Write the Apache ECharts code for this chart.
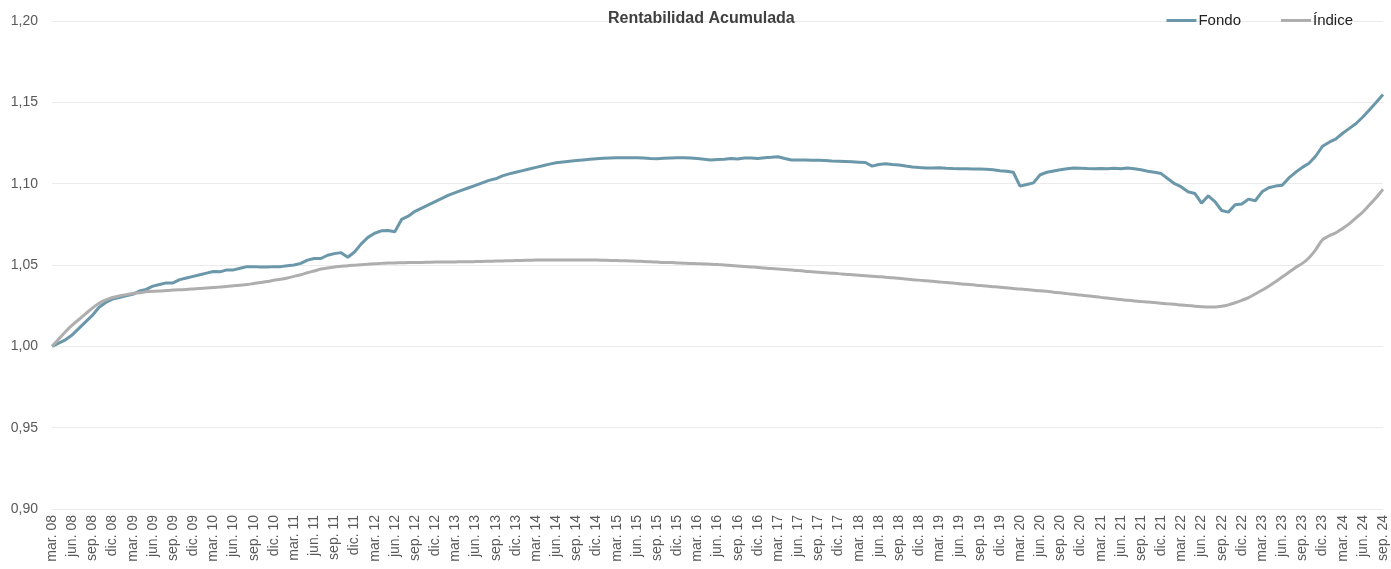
<!DOCTYPE html>
<html>
<head>
<meta charset="utf-8">
<script src="https://cdn.jsdelivr.net/npm/echarts@6/dist/echarts.min.js"></script>
<style>
html,body{margin:0;padding:0;background:#fff;}
#chart{width:1391px;height:569px;}
</style>
</head>
<body>
<div id="chart"></div>
<script>
// Month names (Spanish abbreviations) and the year span of the series (monthly, mar. 08 .. sep. 24)
const monthNames = ['ene.','feb.','mar.','abr.','may.','jun.','jul.','ago.','sep.','oct.','nov.','dic.'];
const startYear = 2008, startMonth = 2;   // March 2008
const endYear = 2024, endMonth = 8;       // September 2024

// Fondo: monthly cumulative return index
const fondo = [
1.000,1.002,1.004,1.007,1.011,1.015,1.019,1.024,1.027,1.029,
1.030,1.031,1.032,1.034,1.035,1.037,1.038,1.039,1.039,1.041,
1.042,1.043,1.044,1.045,1.046,1.0458,1.047,1.047,1.048,1.049,
1.049,1.0488,1.0488,1.049,1.049,1.0495,1.050,1.051,1.053,1.054,
1.054,1.056,1.057,1.0576,1.0548,1.058,1.063,1.067,1.0695,1.071,
1.0712,1.0705,1.078,1.080,1.083,1.085,1.087,1.089,1.091,1.093,
1.0945,1.096,1.0975,1.099,1.1005,1.102,1.103,1.1048,1.106,1.107,
1.108,1.109,1.110,1.111,1.112,1.1128,1.1133,1.1138,1.1142,1.1146,
1.115,1.1153,1.1156,1.1158,1.116,1.116,1.116,1.116,1.1158,1.1155,
1.1153,1.1156,1.1158,1.116,1.116,1.1158,1.1155,1.115,1.1145,1.1148,
1.115,1.1155,1.1152,1.1158,1.1158,1.1155,1.116,1.1162,1.1165,1.1155,
1.1146,1.1145,1.1145,1.1144,1.1144,1.1143,1.114,1.1138,1.1136,1.1134,
1.1132,1.113,1.1108,1.1118,1.1122,1.1118,1.1115,1.1108,1.1102,1.1099,
1.1097,1.1096,1.1098,1.1095,1.1093,1.1092,1.1092,1.109,1.109,1.1088,
1.1085,1.108,1.1076,1.107,1.0985,1.0995,1.1005,1.1055,1.107,1.1078,
1.1085,1.1092,1.1097,1.1095,1.1093,1.1092,1.1093,1.1092,1.1095,1.1092,
1.1097,1.1092,1.1085,1.1076,1.107,1.1062,1.103,1.100,1.098,1.095,
1.094,1.088,1.0925,1.089,1.0835,1.0825,1.087,1.0875,1.0905,1.0895,
1.095,1.0975,1.0985,1.099,1.1035,1.107,1.110,1.1125,1.117,1.123,
1.1255,1.1275,1.131,1.134,1.137,1.141,1.1455,1.150,1.1548
];

// Índice: monthly cumulative return index
const indice = [
1.000,1.0045,1.009,1.013,1.0165,1.020,1.0235,1.0265,1.0285,1.030,
1.031,1.0318,1.0325,1.033,1.0335,1.0338,1.034,1.0343,1.0346,1.0348,
1.035,1.0353,1.0356,1.0358,1.0361,1.0365,1.0368,1.0372,1.0376,1.038,
1.0386,1.0392,1.0398,1.0406,1.0412,1.042,1.043,1.044,1.0452,1.0463,
1.0475,1.0482,1.0488,1.0492,1.0496,1.0499,1.0502,1.0505,1.0508,1.051,
1.0512,1.0513,1.0514,1.0515,1.0516,1.0516,1.0517,1.0518,1.0518,1.0519,
1.0519,1.052,1.052,1.0521,1.0522,1.0523,1.0524,1.0525,1.0526,1.0527,
1.0528,1.0529,1.053,1.053,1.053,1.053,1.053,1.053,1.053,1.053,
1.053,1.053,1.0529,1.0528,1.0527,1.0526,1.0525,1.0523,1.0522,1.052,
1.0518,1.0516,1.0515,1.0513,1.0511,1.0509,1.0508,1.0506,1.0505,1.0503,
1.050,1.0497,1.0494,1.0491,1.0488,1.0485,1.0481,1.0478,1.0475,1.0472,
1.0469,1.0466,1.0462,1.0459,1.0456,1.0453,1.045,1.0447,1.0443,1.044,
1.0437,1.0434,1.0431,1.0428,1.0425,1.0421,1.0418,1.0414,1.041,1.0407,
1.0403,1.04,1.0396,1.0392,1.0389,1.0385,1.0381,1.0378,1.0374,1.0371,
1.0367,1.0363,1.036,1.0356,1.0352,1.0349,1.0345,1.0341,1.0338,1.0333,
1.0329,1.0324,1.032,1.0315,1.0311,1.0306,1.0301,1.0297,1.0292,1.0288,
1.0283,1.0279,1.0276,1.0272,1.0269,1.0265,1.0261,1.0258,1.0254,1.0251,
1.0247,1.0244,1.0242,1.0242,1.0246,1.0255,1.0268,1.0283,1.030,1.0322,
1.0345,1.037,1.0397,1.0426,1.0455,1.0485,1.051,1.0545,1.0595,1.0655,
1.068,1.0698,1.0725,1.0754,1.079,1.0826,1.087,1.0915,1.0966
];

// y-axis ticks
const yMin = 0.90, yMax = 1.20, yStep = 0.05;

const categories = [];
for (let y = startYear, m = startMonth; y < endYear || (y === endYear && m <= endMonth); ) {
  categories.push(monthNames[m] + ' ' + String(y % 100).padStart(2, '0'));
  m++; if (m > 11) { m = 0; y++; }
}

const FONT = '"Liberation Sans", Arial, sans-serif';
const chart = echarts.init(document.getElementById('chart'), null, {renderer: 'canvas'});
chart.setOption({
  animation: false,
  backgroundColor: '#ffffff',
  title: {
    text: 'Rentabilidad Acumulada',
    left: 603, top: 6,
    textStyle: {fontFamily: FONT, fontSize: 16, fontWeight: 'bold', color: '#404040'}
  },
  legend: {
    right: 33, top: 8,
    itemWidth: 30, itemHeight: 3, itemGap: 40,
    icon: 'rect',
    textStyle: {fontFamily: FONT, fontSize: 15, color: '#222', padding: [0, 0, 0, -3]},
    data: ['Fondo', 'Índice']
  },
  grid: {left: 52, right: 8, top: 21, bottom: 60, containLabel: false},
  xAxis: {
    type: 'category',
    data: categories,
    boundaryGap: false,
    axisLine: {show: false},
    axisTick: {show: false},
    axisLabel: {
      interval: 2, rotate: 90, margin: 6,
      fontFamily: FONT, fontSize: 14, color: '#595959'
    },
    splitLine: {show: false}
  },
  yAxis: {
    type: 'value',
    min: yMin, max: yMax, interval: yStep,
    axisLine: {show: false},
    axisTick: {show: false},
    axisLabel: {
      margin: 14,
      fontFamily: FONT, fontSize: 14, color: '#595959',
      formatter: v => v.toFixed(2).replace('.', ',')
    },
    splitLine: {lineStyle: {color: '#ebebeb', width: 1}}
  },
  series: [
    {
      name: 'Fondo', type: 'line', data: fondo,
      showSymbol: false, symbol: 'none',
      lineStyle: {color: '#6A97A9', width: 3},
      itemStyle: {color: '#6A97A9'}
    },
    {
      name: 'Índice', type: 'line', data: indice,
      showSymbol: false, symbol: 'none', smooth: 0.3,
      lineStyle: {color: '#AEAEAE', width: 3},
      itemStyle: {color: '#AEAEAE'}
    }
  ]
});
</script>
</body>
</html>
